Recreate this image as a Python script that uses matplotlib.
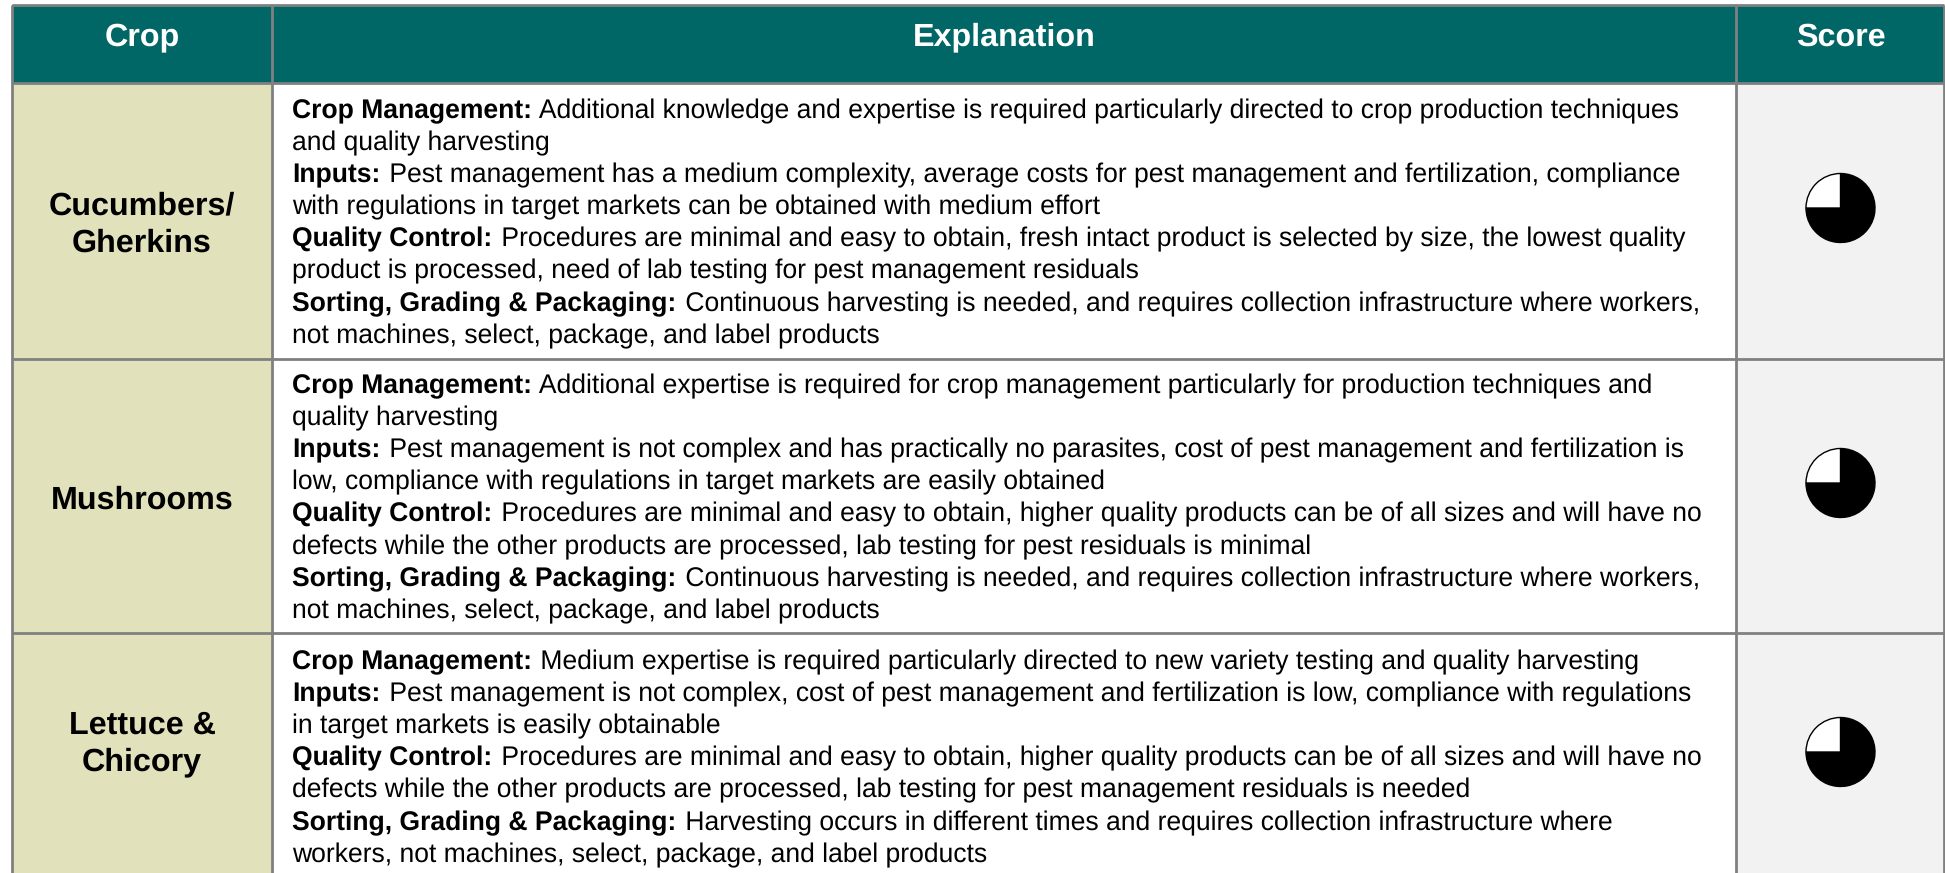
"""
Crop scoring table
"""

import math

import matplotlib

matplotlib.use("Agg")
import matplotlib.pyplot as plt  # type: ignore

HEADERS = ["Crop", "Explanation", "Score"]
CROPS = [["Cucumbers/", "Gherkins"], ["Mushrooms"], ["Lettuce &", "Chicory"]]
SCORES = [75, 75, 75]

CUCUMBER_TEXT = [
    ("Crop Management:", " Additional knowledge and expertise is required particularly directed to crop production techniques"),
    ("", "and quality harvesting"),
    ("Inputs:", " Pest management has a medium complexity, average costs for pest management and fertilization, compliance"),
    ("", "with regulations in target markets can be obtained with medium effort"),
    ("Quality Control:", " Procedures are minimal and easy to obtain, fresh intact product is selected by size, the lowest quality"),
    ("", "product is processed, need of lab testing for pest management residuals"),
    ("Sorting, Grading & Packaging:", " Continuous harvesting is needed, and requires collection infrastructure where workers,"),
    ("", "not machines, select, package, and label products"),
]
MUSHROOM_TEXT = [
    ("Crop Management:", " Additional expertise is required for crop management particularly for production techniques and"),
    ("", "quality harvesting"),
    ("Inputs:", " Pest management is not complex and has practically no parasites, cost of pest management and fertilization is"),
    ("", "low, compliance with regulations in target markets are easily obtained"),
    ("Quality Control:", " Procedures are minimal and easy to obtain, higher quality products can be of all sizes and will have no"),
    ("", "defects while the other products are processed, lab testing for pest residuals is minimal"),
    ("Sorting, Grading & Packaging:", " Continuous harvesting is needed, and requires collection infrastructure where workers,"),
    ("", "not machines, select, package, and label products"),
]
LETTUCE_TEXT = [
    ("Crop Management:", " Medium expertise is required particularly directed to new variety testing and quality harvesting"),
    ("Inputs:", " Pest management is not complex, cost of pest management and fertilization is low, compliance with regulations"),
    ("", "in target markets is easily obtainable"),
    ("Quality Control:", " Procedures are minimal and easy to obtain, higher quality products can be of all sizes and will have no"),
    ("", "defects while the other products are processed, lab testing for pest management residuals is needed"),
    ("Sorting, Grading & Packaging:", " Harvesting occurs in different times and requires collection infrastructure where"),
    ("", "workers, not machines, select, package, and label products"),
]
EXPLANATIONS = [CUCUMBER_TEXT, MUSHROOM_TEXT, LETTUCE_TEXT]

TEAL = "#006666"
BEIGE = "#E1E1BC"
GREY = "#F2F2F2"
LINE = "#808080"

COL_X = [12, 272, 1736, 1944]
ROW_Y = [5, 83, 359, 633, 880]
FIRST_BASELINE = [118, 393, 669]
LINE_STEP = 32.1
PIE_Y = [208, 483, 752]

plt.rcParams["font.family"] = ["Liberation Sans", "DejaVu Sans"]
plt.rcParams["text.hinting"] = "no_hinting"

fig = plt.figure(figsize=(19.45, 8.73), dpi=100)
ax = fig.add_axes([0, 0, 1, 1])


def fill_cell(col, row, color):
    """
    Fill one table cell
    """
    ax.fill_between(
        [COL_X[col], COL_X[col + 1]], ROW_Y[row], ROW_Y[row + 1], color=color, lw=0, zorder=1
    )


def put_line(x, y, string, **kwargs):
    """
    Draw a text with its baseline on a whole pixel, so that parts of a line stay level
    """
    t = ax.text(x, y, string, va="baseline", zorder=4, **kwargs)
    descent = renderer.get_text_width_height_descent(string, t.get_fontproperties(), False)[2]
    t.set_y(round(y) + math.ceil(descent) - descent)
    return t


ax.set_xlim(0, 1945)
ax.set_ylim(873, 0)
ax.axis("off")
fig.canvas.draw()
renderer = fig.canvas.get_renderer()

for c in range(3):
    fill_cell(c, 0, TEAL)
    put_line(
        (COL_X[c] + COL_X[c + 1]) / 2 + 0.5, 45, HEADERS[c], color="white", fontsize=23.2,
        fontweight="bold", ha="center",
    )

for r in range(3):
    fill_cell(0, r + 1, BEIGE)
    fill_cell(1, r + 1, "white")
    fill_cell(2, r + 1, GREY)

for x in COL_X:
    ax.plot([x, x], [ROW_Y[0], ROW_Y[-1]], color=LINE, lw=2, solid_capstyle="butt", zorder=3)
for y in ROW_Y[:-1]:
    ax.plot([COL_X[0], COL_X[-1]], [y, y], color=LINE, lw=2, solid_capstyle="butt", zorder=3)

# crop names, centred on the row
CROP_BASE = [[214, 251], [508], [733, 770]]
for names, bases in zip(CROPS, CROP_BASE):
    for name, y in zip(names, bases):
        put_line(142, y, name, color="black", fontsize=23.2, fontweight="bold", ha="center")

# explanation lines, bold lead then regular text after it
for lines, y0 in zip(EXPLANATIONS, FIRST_BASELINE):
    for i, (lead, rest) in enumerate(lines):
        y = y0 + i * LINE_STEP
        x = 292
        if lead:
            t = put_line(x, y, lead, fontsize=19.1, fontweight="bold")
            x = ax.transData.inverted().transform(t.get_window_extent(renderer))[1][0] + 1.5
        put_line(x, y, rest, fontsize=19.1)

for score, y in zip(SCORES, PIE_Y):
    ax.pie(
        [score, 100 - score], colors=["black", "white"], center=(1840.5, y), radius=34.5,
        startangle=-90, counterclock=True, frame=True,
        wedgeprops={"edgecolor": "black", "linewidth": 1, "zorder": 5},
    )

ax.set_xlim(0, 1945)
ax.set_ylim(873, 0)
ax.axis("off")
fig.savefig("out.png", dpi=100)
